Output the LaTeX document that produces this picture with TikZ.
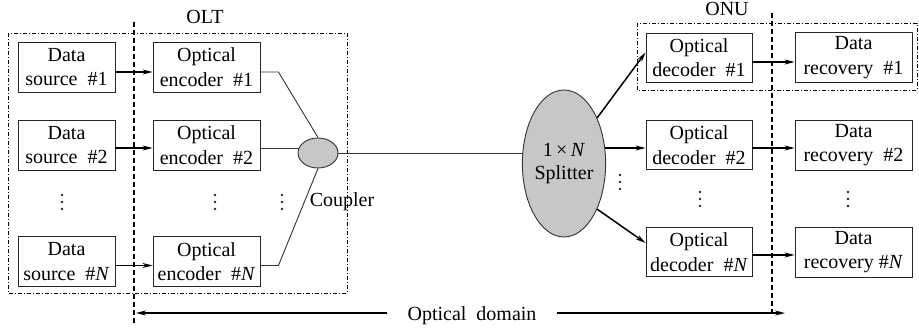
\documentclass[tikz,border=0pt]{standalone}
\usepackage{fontspec}
\setmainfont{Liberation Serif}
\usetikzlibrary{arrows.meta,shapes.geometric,calc}
\pgfdeclarelayer{bg}
\pgfsetlayers{bg,main}

\begin{document}
\begin{tikzpicture}[x=1pt,y=-1pt,
  font=\fontsize{20}{24.5}\selectfont,
  blk/.style={draw=black!85,line width=0.9pt,align=center,inner sep=0pt,minimum height=50pt},
  srcbox/.style={blk,minimum width=97pt},
  encbox/.style={blk,minimum width=107pt},
  decbox/.style={blk,minimum width=106pt,minimum height=49pt},
  recbox/.style={blk,minimum width=117pt},
  arr/.style={line width=1.5pt,-{Stealth[length=10pt,width=5pt]}},
  fibre/.style={line width=0.9pt,draw=black!80},
  dashdot/.style={line width=0.9pt,dash pattern=on 4pt off 2pt on 1pt off 2pt},
  divider/.style={line width=1.6pt,dash pattern=on 5pt off 3pt},
  grey/.style={draw=black!80,fill=black!22,line width=0.9pt,inner sep=0pt},
  dotmark/.style={circle,fill=black!85,inner sep=0pt,minimum size=2.6pt}
]
\useasboundingbox (0,0) rectangle (919,330);

% OLT and ONU groupings
\draw[dashdot] (8,33) rectangle (347,293);
\draw[dashdot] (637,23) rectangle (917,90);
\node (olt) at (205,17) {OLT};
\node (onu) at (727,9) {ONU};

% transmitter side
\node[srcbox] (s1) at (66.5,67)  {Data\\source\enspace\#1};
\node[srcbox] (s2) at (66.5,145) {Data\\source\enspace\#2};
\node[srcbox] (sn) at (66.5,261.5) {Data\\source\enspace\#\textit{N}};
\node[encbox] (e1) at (206.5,67)  {Optical\\encoder\enspace\#1};
\node[encbox] (e2) at (206.5,145) {Optical\\encoder\enspace\#2};
\node[encbox] (en) at (206.5,261.5) {Optical\\encoder\enspace\#\textit{N}};

% passive elements
\node[grey,ellipse,minimum width=40pt,minimum height=30pt] (cpl) at (318,153) {};
\node (cpllabel) at (342,202) {Coupler};
\node[grey,ellipse,minimum width=65pt,minimum height=147pt,align=center] (spl) at (564,163.5)
  {1\,×\,\textit{N}\\[-2pt]Splitter};

% receiver side
\node[decbox] (d1) at (699,57.5) {Optical\\decoder\enspace\#1};
\node[decbox] (d2) at (699,145)  {Optical\\decoder\enspace\#2};
\node[decbox] (dn) at (699,252)  {Optical\\decoder\enspace\#\textit{N}};
\node[recbox] (r1) at (853.5,57.5) {Data\\recovery\enspace\#1};
\node[recbox] (r2) at (853.5,145)  {Data\\recovery\enspace\#2};
\node[recbox] (rn) at (853.5,252)  {Data\\recovery \#\textit{N}};

% vertical ellipsis marks (three dots each)
\foreach \nm/\px/\py in {v1/62/202, v2/215/202, v3/282/202, v4/620/182, v5/700/199, v6/848/199}
  \foreach \k in {-1,0,1}
    \node[dotmark] (\nm\k) at (\px,\py+7*\k) {};

% electrical links
\draw[arr] ([yshift=-5pt]s1.east) -- ([yshift=-5pt]e1.west);
\draw[arr] ([yshift=-3pt]s2.east) -- ([yshift=-3pt]e2.west);
\draw[arr] ([yshift=-4pt]sn.east) -- ([yshift=-4pt]en.west);
\draw[arr] ([yshift=-4.5pt]d1.east) -- ([yshift=-4.5pt]r1.west);
\draw[arr] ([yshift=-3pt]d2.east) -- ([yshift=-3pt]r2.west);
\draw[arr] ([yshift=-3pt]dn.east) -- ([yshift=-3pt]rn.west);

% optical fibres
\begin{pgfonlayer}{bg}
\draw[fibre] ([yshift=-5pt]e1.east) -- ++(18,0) -- (cpl.north);
\draw[fibre] ([yshift=-3pt]e2.east) -- ([yshift=-3pt]e2.east -| cpl.center);
\draw[fibre] ([yshift=-4pt]en.east) -- ++(18,0) -- (cpl.south);
\draw[fibre] (cpl.center) -- (cpl.center -| spl.center);
\draw[arr] (spl.center |- d2.west) ++(0,3) coordinate (sp2) (sp2) -- ([yshift=-3pt]d2.west);
\end{pgfonlayer}
\draw[arr] (spl.54) -- ([yshift=5pt]d1.west);
\draw[arr] (spl.-54) -- ([yshift=9pt]dn.west);

% domain boundaries
\draw[divider] (134,22) coordinate (ltop) -- (134,325) coordinate (lbot);
\draw[divider] (772,13) coordinate (rtop) -- (772,317) coordinate (rbot);

% optical domain span
\node[fill=white,inner xsep=20pt,inner ysep=2pt] (dom) at (472,316) {Optical\enspace domain};
\coordinate (ldom) at (136,313);
\coordinate (rdom) at (785,313);
\draw[arr] (dom.west |- ldom) -- (ldom);
\draw[arr] (dom.east |- rdom) -- (rdom);
\end{tikzpicture}
\end{document}
